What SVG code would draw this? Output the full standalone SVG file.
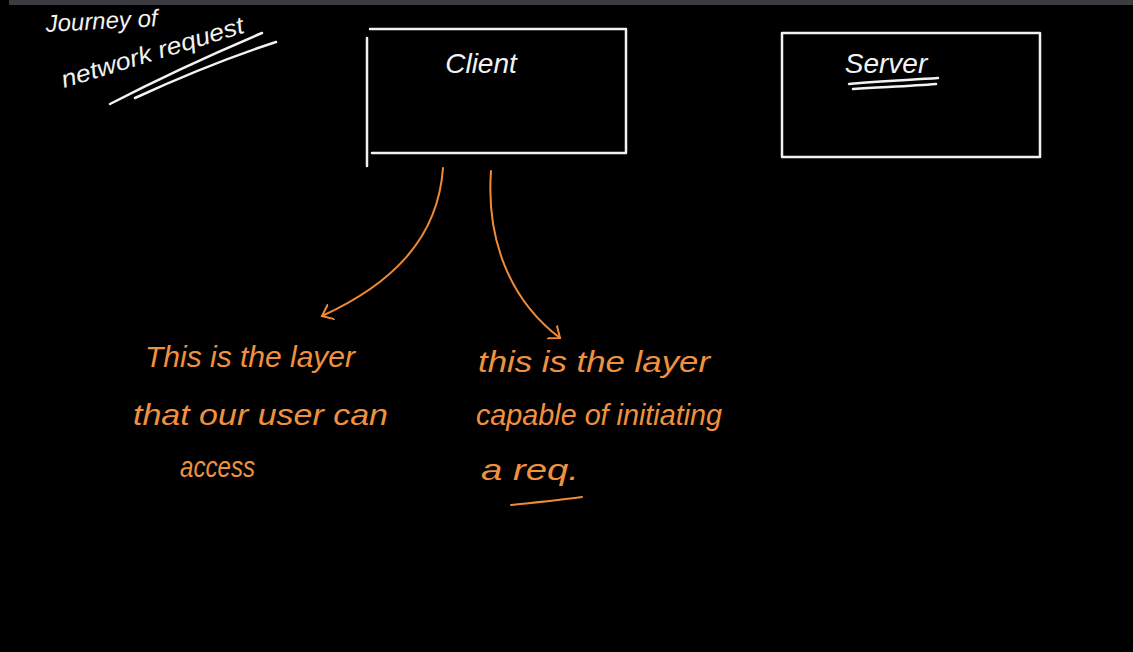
<svg xmlns="http://www.w3.org/2000/svg" width="1133" height="652" viewBox="0 0 1133 652">
<style>
.w{fill:none;stroke:#f2f2f2;stroke-width:2.5;stroke-linecap:round;stroke-linejoin:round}
.o{fill:none;stroke:#f28a35;stroke-width:2;stroke-linecap:round;stroke-linejoin:round}
.tw{fill:#f2f2f2;font-family:"Liberation Sans",Arial,sans-serif;font-style:italic}
.to{fill:#f0913f;font-family:"Liberation Sans",Arial,sans-serif;font-style:italic;font-size:30px}
</style>
<defs>
<marker id="ah" viewBox="0 0 20 20" refX="10" refY="10" markerWidth="20" markerHeight="20" markerUnits="userSpaceOnUse" orient="auto">
<path d="M0,2 L10,10 L0,18" fill="none" stroke="#f28a35" stroke-width="2" stroke-linecap="round"/>
</marker>
</defs>
<rect x="0" y="0" width="1133" height="652" fill="#000"/>
<rect x="9" y="0" width="1124" height="5" fill="#3c3b40"/>
<g id="title">
<text class="tw" x="46" y="32" font-size="24" transform="rotate(-3 46 32)">Journey of</text>
<text class="tw" x="64" y="88" font-size="24" textLength="190" lengthAdjust="spacingAndGlyphs" transform="rotate(-17 64 88)">network request</text>
<path class="w" d="M110,104 C160,78 210,55 262,33"/>
<path class="w" d="M135,98 C185,75 230,57 276,42"/>
</g>
<g id="client">
<path class="w" d="M370,29 L626,29 L626,153 L372,153"/>
<path class="w" d="M367,38 L367,166"/>
<text class="tw" x="481" y="73" font-size="28" text-anchor="middle">Client</text>
</g>
<g id="server">
<rect class="w" x="782" y="33" width="258" height="124"/>
<text class="tw" x="886" y="73" font-size="28" text-anchor="middle">Server</text>
<path class="w" d="M849,84 C880,81 910,80 938,78"/>
<path class="w" d="M853,89 C885,87 912,86 936,84"/>
</g>
<g id="connectors">
<path class="o" d="M443,168 C438,240 390,285 322,316" marker-end="url(#ah)"/>
<path class="o" d="M491,171 C486,240 510,300 560,338" marker-end="url(#ah)"/>
</g>
<g id="note-left">
<text class="to" x="145" y="367" textLength="210" lengthAdjust="spacingAndGlyphs">This is the layer</text>
<text class="to" x="133" y="425" textLength="255" lengthAdjust="spacingAndGlyphs">that our user can</text>
<text class="to" x="180" y="477" textLength="75" lengthAdjust="spacingAndGlyphs">access</text>
</g>
<g id="note-right">
<text class="to" x="478" y="372" textLength="232" lengthAdjust="spacingAndGlyphs">this is the layer</text>
<text class="to" x="476" y="425" textLength="246" lengthAdjust="spacingAndGlyphs">capable of initiating</text>
<text class="to" x="481" y="480" textLength="98" lengthAdjust="spacingAndGlyphs">a req.</text>
<path class="o" d="M511,505 C540,502 560,500 582,497"/>
</g>
</svg>
